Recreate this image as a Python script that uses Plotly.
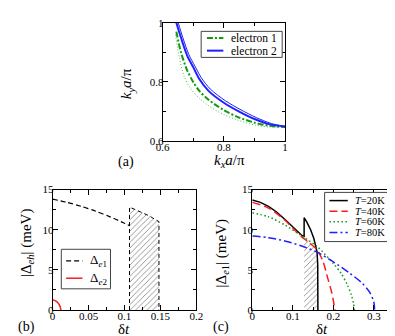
import plotly.graph_objects as go

W, H = 395, 336
SERIF = "Liberation Serif, Times New Roman, serif"

# ---- panel (a): Fermi surface pieces ----
e2_thick_x = [0.645, 0.66, 0.68, 0.70, 0.72, 0.75, 0.80, 0.85, 0.90, 0.95, 1.0]
e2_thick_y = [1.0, 0.95, 0.89, 0.85, 0.81, 0.77, 0.73, 0.70, 0.675, 0.657, 0.65]
e2_thin_x = [0.651, 0.666, 0.686, 0.706, 0.726, 0.756, 0.806, 0.856, 0.906, 0.955, 1.0]
e2_thin_y = [1.0, 0.95, 0.892, 0.853, 0.815, 0.776, 0.736, 0.706, 0.68, 0.66, 0.65]
e1_dd_x = [0.645, 0.66, 0.68, 0.70, 0.72, 0.75, 0.80, 0.85, 0.90, 0.95, 1.0]
e1_dd_y = [0.97, 0.90, 0.84, 0.80, 0.77, 0.74, 0.705, 0.68, 0.663, 0.652, 0.648]
e1_dot_x = [0.642, 0.655, 0.67, 0.69, 0.72, 0.75, 0.80, 0.85, 0.90, 0.95, 1.0]
e1_dot_y = [0.96, 0.88, 0.82, 0.78, 0.745, 0.72, 0.69, 0.67, 0.655, 0.648, 0.647]

# ---- panel (b) ----
de1_x = [0, 0.02, 0.04, 0.06, 0.08, 0.10, 0.107]
de1_y = [13.8, 13.4, 12.9, 12.3, 11.6, 10.8, 10.5]
de1_hatch_x = [0.107, 0.107, 0.115, 0.125, 0.135, 0.142, 0.148, 0.148]
de1_hatch_y = [0, 12.8, 12.5, 12.1, 11.7, 11.3, 11.0, 0]
de2_x = [0, 0.004, 0.007, 0.009, 0.0105, 0.0115]
de2_y = [1.3, 1.15, 0.95, 0.7, 0.4, 0.0]

# ---- panel (c) ----
t20_x = [0, 0.02, 0.04, 0.06, 0.08, 0.10, 0.12, 0.128, 0.128, 0.135, 0.144, 0.152, 0.157, 0.160, 0.1615, 0.162, 0.162]
t20_y = [13.7, 13.4, 12.9, 12.2, 11.3, 10.3, 9.4, 9.1, 11.5, 10.9, 10.0, 8.9, 8.0, 7.2, 5.6, 3.0, 0]
t40_x = [0, 0.04, 0.08, 0.10, 0.12, 0.14, 0.16, 0.175, 0.186, 0.195, 0.20, 0.204]
t40_y = [13.4, 12.7, 11.2, 10.2, 9.2, 8.4, 7.5, 6.0, 4.0, 2.4, 1.2, 0]
t60_x = [0, 0.04, 0.08, 0.12, 0.16, 0.20, 0.22, 0.235, 0.245, 0.25, 0.252]
t60_y = [12.1, 11.6, 10.6, 9.3, 7.9, 5.8, 4.5, 3.1, 1.8, 0.8, 0]
t80_x = [0, 0.04, 0.08, 0.12, 0.16, 0.20, 0.24, 0.27, 0.29, 0.30, 0.302]
t80_y = [9.2, 9.0, 8.6, 8.0, 7.2, 6.0, 4.6, 3.4, 2.2, 1.0, 0]
t20_hatch_x = [0.128, 0.128, 0.14, 0.15, 0.156, 0.160, 0.1615, 0.162, 0.162]
t20_hatch_y = [0, 9.1, 8.6, 8.2, 7.9, 7.2, 5.6, 3.0, 0]

legend_a = ["electron 1", "electron 2"]
legend_b = ["Δ<sub><i>e</i>1</sub>", "Δ<sub><i>e</i>2</sub>"]
legend_c = ["<i>T</i>=20K", "<i>T</i>=40K", "<i>T</i>=60K", "<i>T</i>=80K"]

GREEN = "#119911"
BLUE = "#1f1fff"
RED = "#ff1a1a"
HATCH = dict(shape="/", fgcolor="black", bgcolor="white", size=4, solidity=0.2)

S_E1 = dict(color=GREEN, width=2, dash="6px,2px,2px,2px")
S_E2 = dict(color=BLUE, width=2)
S_DE1 = dict(color="black", width=1.2, dash="5px,3px")
S_DE2 = dict(color=RED, width=1.5)
S_T20 = dict(color="black", width=1.5)
S_T40 = dict(color=RED, width=1.5, dash="8px,4px")
S_T60 = dict(color=GREEN, width=1.5, dash="1.5px,2.5px")
S_T80 = dict(color=BLUE, width=1.5, dash="8px,3px,2px,3px")


def smooth(style):
    return dict(style, shape="spline", smoothing=0.8)


fig = go.Figure()

# panel a
fig.add_trace(go.Scatter(x=e1_dot_x, y=e1_dot_y, mode="lines", xaxis="x", yaxis="y",
                         line=smooth(dict(color="#55bb55", width=1, dash="1px,2px"))))
fig.add_trace(go.Scatter(x=e1_dd_x, y=e1_dd_y, mode="lines", xaxis="x", yaxis="y", line=smooth(S_E1)))
fig.add_trace(go.Scatter(x=e2_thin_x, y=e2_thin_y, mode="lines", xaxis="x", yaxis="y",
                         line=smooth(dict(color=BLUE, width=1))))
fig.add_trace(go.Scatter(x=e2_thick_x, y=e2_thick_y, mode="lines", xaxis="x", yaxis="y", line=smooth(S_E2)))

# panel b
fig.add_trace(go.Scatter(x=de1_hatch_x, y=de1_hatch_y, mode="lines", xaxis="x2", yaxis="y2",
                         fill="toself", fillcolor="white", fillpattern=HATCH,
                         line=dict(color="black", width=1, dash="4px,3px")))
fig.add_trace(go.Scatter(x=de1_x, y=de1_y, mode="lines", xaxis="x2", yaxis="y2", line=smooth(S_DE1)))
fig.add_trace(go.Scatter(x=de2_x, y=de2_y, mode="lines", xaxis="x2", yaxis="y2", line=smooth(S_DE2)))

# panel c
fig.add_trace(go.Scatter(x=t20_hatch_x, y=t20_hatch_y, mode="lines", xaxis="x3", yaxis="y3",
                         fill="toself", fillcolor="white", fillpattern=HATCH, line=dict(width=0)))
fig.add_trace(go.Scatter(x=t20_x, y=t20_y, mode="lines", xaxis="x3", yaxis="y3", line=S_T20))
fig.add_trace(go.Scatter(x=t40_x, y=t40_y, mode="lines", xaxis="x3", yaxis="y3", line=smooth(S_T40)))
fig.add_trace(go.Scatter(x=t60_x, y=t60_y, mode="lines", xaxis="x3", yaxis="y3", line=smooth(S_T60)))
fig.add_trace(go.Scatter(x=t80_x, y=t80_y, mode="lines", xaxis="x3", yaxis="y3", line=smooth(S_T80)))


def px(x):
    return x / W


def py(y):
    return 1 - y / H


def ax(domain, rng, dtick, minor, anchor):
    return dict(domain=domain, range=rng, dtick=dtick, tick0=0, ticks="inside", ticklen=5,
                tickwidth=1, tickcolor="black", mirror="allticks", showline=True,
                linecolor="black", linewidth=1, showgrid=False, zeroline=False,
                ticklabelstandoff=-4,
                minor=dict(dtick=minor, ticks="inside", ticklen=3, tickcolor="black", showgrid=False),
                tickfont=dict(family=SERIF, size=11, color="black"), anchor=anchor)


yb = [py(307), py(182)]
fig.update_layout(
    width=W, height=H, margin=dict(l=0, r=0, t=0, b=0),
    plot_bgcolor="white", paper_bgcolor="white", showlegend=False,
    font=dict(family=SERIF, size=11, color="black"),
    xaxis=ax([px(153), px(280)], [0.6, 1.0], 0.2, 0.1, "y"),
    yaxis=ax([py(132), py(9)], [0.6, 1.0], 0.2, 0.1, "x"),
    xaxis2=ax([px(39), px(188)], [0, 0.2], 0.05, 0.025, "y2"),
    yaxis2=ax(yb, [0, 15], 5, 2.5, "x2"),
    xaxis3=ax([px(246), px(393)], [0, 0.35], 0.1, 0.05, "y3"),
    yaxis3=ax(yb, [0, 15], 5, 2.5, "x3"),
)


# ---- hand-placed legend boxes (layout only) ----
def legend_box(x0, y0, x1, y1, key_x0, key_x1, text_x, rows, labels, styles, size):
    fig.add_shape(type="rect", xref="paper", yref="paper", x0=px(x0), x1=px(x1),
                  y0=py(y1), y1=py(y0), fillcolor="white", line=dict(color="#444", width=1),
                  layer="above")
    for r, lab, st in zip(rows, labels, styles):
        fig.add_shape(type="line", xref="paper", yref="paper", x0=px(key_x0), x1=px(key_x1),
                      y0=py(r), y1=py(r), line=st, layer="above")
        fig.add_annotation(text=lab, x=px(text_x), y=py(r), xref="paper", yref="paper",
                           showarrow=False, xanchor="left", yanchor="middle",
                           font=dict(family=SERIF, size=size, color="black"))


legend_box(193, 18, 277, 45, 199, 216, 222, [25, 38], legend_a, [S_E1, S_E2], 11.5)
legend_box(48, 244, 99, 285, 53, 70, 76, [256, 274], legend_b, [S_DE1, S_DE2], 13)
legend_box(321, 185, 388, 236, 326, 345, 350, [193.5, 204.5, 215.5, 226.5], legend_c,
           [S_T20, S_T40, S_T60, S_T80], 10.5)

ann = [
    ("(a)", 115, 153, 14, 0),
    ("<i>k</i><sub><i>x</i></sub><i>a</i>/π", 222, 152, 15, 0),
    ("<i>k</i><sub><i>y</i></sub><i>a</i>/π", 117, 72, 15, -90),
    ("(b)", 12, 325, 14, 0),
    ("δ<i>t</i>", 113, 327, 15, 0),
    ("|Δ<sub><i>eh</i></sub>| (meV)", 12, 238, 15, -90),
    ("(c)", 214, 325, 14, 0),
    ("δ<i>t</i>", 318, 327, 15, 0),
    ("|Δ<sub><i>e</i>1</sub>| (meV)", 215, 248, 15, -90),
]
for text, x, y, size, ang in ann:
    fig.add_annotation(text=text, x=px(x), y=py(y), xref="paper", yref="paper",
                       showarrow=False, textangle=ang, xanchor="center", yanchor="middle",
                       font=dict(family=SERIF, size=size, color="black"))

fig.write_html("out.html")
